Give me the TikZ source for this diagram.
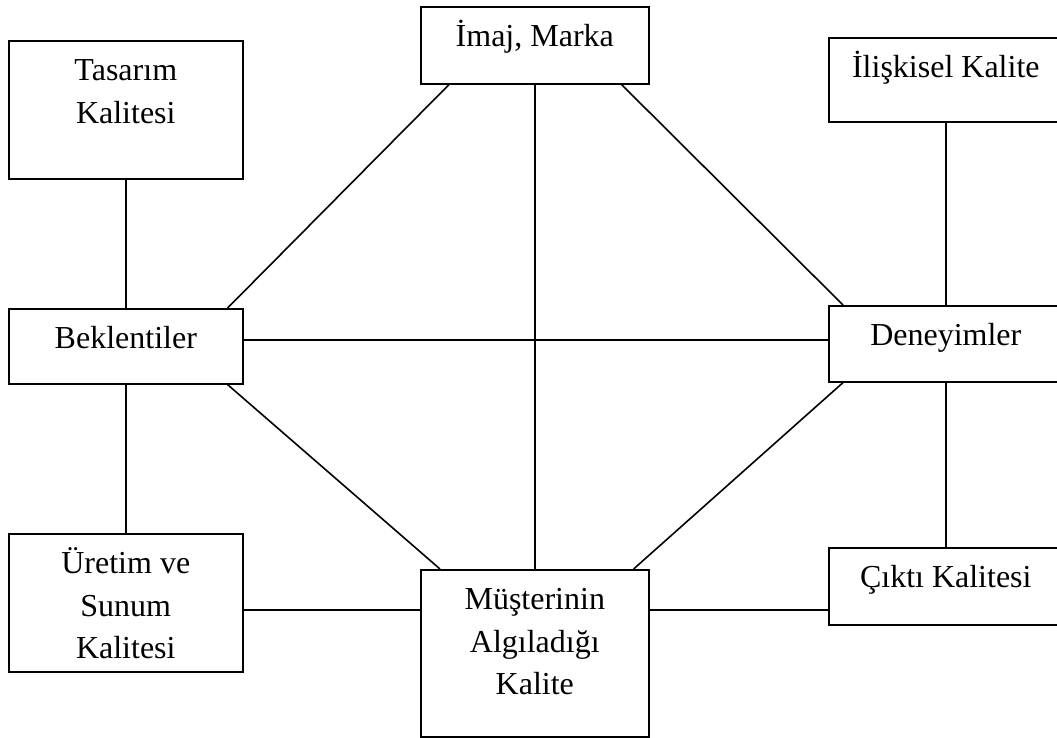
\documentclass[tikz,border=0pt]{standalone}
\usepackage{fontspec}
\setmainfont{Liberation Serif}
\begin{document}
\begin{tikzpicture}[x=1pt,y=-1pt,line width=1.6pt,
  kutu/.style={draw,rectangle,anchor=north west,inner sep=0pt,align=flush center,
    text width=234pt,text height=40pt,font=\fontsize{32}{42.5}\selectfont}]
\clip (0,0) rectangle (1057,737);
%\useasboundingbox (0,0) rectangle (1057,737);
\node[kutu,text depth=98pt] (tasarim) at (8,40) {Tasarım\\Kalitesi}; %1
\node[kutu,text width=228pt,text depth=37pt] (imaj) at (420,6) {İmaj, Marka}; %2
\node[kutu,text depth=44pt] (iliskisel) at (828,37) {İlişkisel Kalite}; %3
\node[kutu,text depth=35pt] (beklenti) at (8,308) {Beklentiler};
\node[kutu,text depth=36pt] (deneyim) at (828,305) {Deneyimler};
\node[kutu,text depth=98pt] (uretim) at (8,533) {Üretim ve\\Sunum\\Kalitesi};
\node[kutu,text width=228pt,text depth=127pt] (musteri) at (420,569) {Müşterinin\\Algıladığı\\Kalite};
\node[kutu,text depth=37pt] (cikti) at (828,547) {Çıktı Kalitesi};
\coordinate (alt) at ([yshift=-7pt]uretim.east);
% dikey
\draw (tasarim.south) -- (beklenti.north);
\draw (beklenti.south) -- (uretim.north);
\draw (imaj.south) -- (musteri.north);
\draw (iliskisel.south) -- (deneyim.north);
\draw (deneyim.south) -- (cikti.north);
% yatay
\draw ([yshift=6.5pt]beklenti.east) -- ([yshift=4pt]deneyim.west);
\draw (alt) -- (alt -| musteri.west);
\draw (alt -| musteri.east) -- (alt -| cikti.west);
% capraz
\draw ([xshift=29pt]imaj.south west) -- ([xshift=-16pt]beklenti.north east);
\draw ([xshift=-28pt]imaj.south east) -- ([xshift=15pt]deneyim.north west);
\draw ([xshift=-16pt]beklenti.south east) -- ([xshift=20pt]musteri.north west);
\draw ([xshift=15pt]deneyim.south west) -- ([xshift=-16pt]musteri.north east);
\end{tikzpicture}
\end{document}
